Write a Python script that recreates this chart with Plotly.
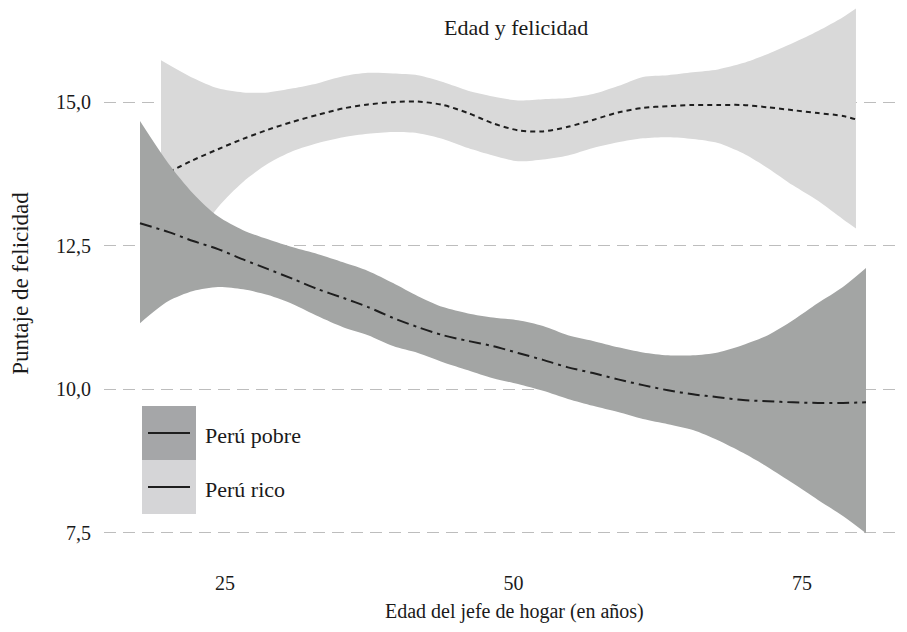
import plotly.graph_objects as go

# ---------------- data ----------------
edad_pobre = [17.63, 20.06, 22.23, 24.39, 26.56, 28.73, 30.89, 33.06, 35.23, 37.39, 39.56, 41.72,
              43.89, 46.06, 48.22, 50.39, 52.56, 54.72, 56.89, 59.06, 61.22, 63.39, 65.55, 67.72,
              69.89, 72.05, 74.22, 76.39, 78.55, 80.55]
pobre_fit = [12.89, 12.74, 12.58, 12.44, 12.26, 12.09, 11.92, 11.74, 11.59, 11.43, 11.24, 11.08,
             10.94, 10.84, 10.75, 10.63, 10.51, 10.38, 10.28, 10.17, 10.07, 9.98, 9.91, 9.86,
             9.81, 9.79, 9.77, 9.76, 9.76, 9.77]
pobre_sup = [14.67, 13.94, 13.41, 13.01, 12.77, 12.61, 12.47, 12.35, 12.21, 12.06, 11.85, 11.62,
             11.43, 11.32, 11.25, 11.20, 11.10, 10.94, 10.84, 10.73, 10.64, 10.59, 10.59, 10.64,
             10.77, 10.94, 11.20, 11.50, 11.78, 12.11]
pobre_inf = [11.15, 11.53, 11.71, 11.78, 11.74, 11.64, 11.48, 11.27, 11.08, 10.94, 10.75, 10.63,
             10.47, 10.33, 10.19, 10.09, 9.97, 9.83, 9.71, 9.60, 9.48, 9.39, 9.29, 9.11,
             8.89, 8.64, 8.36, 8.07, 7.79, 7.49]

edad_rico = [19.45, 22.23, 24.39, 26.56, 28.73, 30.89, 33.06, 35.23, 37.39, 39.56, 41.72, 43.89,
             46.06, 48.22, 50.39, 52.56, 54.72, 56.89, 59.06, 61.22, 63.39, 65.55, 67.72, 69.89,
             72.05, 74.22, 76.39, 78.55, 79.68]
rico_fit = [13.71, 13.99, 14.18, 14.36, 14.52, 14.66, 14.78, 14.89, 14.96, 15.00, 15.01, 14.95,
            14.81, 14.63, 14.51, 14.49, 14.57, 14.69, 14.82, 14.90, 14.93, 14.95, 14.95, 14.95,
            14.91, 14.86, 14.81, 14.76, 14.70]
rico_sup = [15.73, 15.42, 15.24, 15.17, 15.17, 15.24, 15.33, 15.45, 15.51, 15.50, 15.47, 15.35,
            15.20, 15.10, 15.03, 15.05, 15.07, 15.14, 15.28, 15.44, 15.47, 15.52, 15.57, 15.68,
            15.84, 16.03, 16.24, 16.48, 16.63]
rico_inf = [11.69, 12.56, 13.17, 13.61, 13.93, 14.15, 14.29, 14.39, 14.45, 14.48, 14.46, 14.36,
            14.20, 14.07, 13.97, 14.00, 14.07, 14.20, 14.30, 14.37, 14.39, 14.36, 14.29, 14.11,
            13.85, 13.55, 13.28, 12.96, 12.80]

y_ticks = [7.5, 10.0, 12.5, 15.0]
y_labels = ["7,5", "10,0", "12,5", "15,0"]
x_ticks = [25, 50, 75]
x_labels = ["25", "50", "75"]
series_names = ["Perú pobre", "Perú rico"]

# ---------------- style ----------------
OFF = 8                      # page body margin of the html page
W, H = 907 - OFF, 632 - OFF
ML, MR, MT, MB = 96, 5, 0, 73
FONT = "Liberation Serif, Times New Roman, serif"
TXT = "#1a1a1a"
C_POBRE = "#a3a5a4"
C_RICO = "#d9d9d9"
C_LINE = "#1e1e1e"

PW = W - ML - MR
PH = H - MT - MB


def pxx(x):
    """page x pixel -> paper coordinate"""
    return (x - OFF - ML) / PW


def pxy(y):
    """page y pixel -> paper coordinate"""
    return 1 - (y - OFF - MT) / PH


fig = go.Figure()


def band(xs, lo, hi, color):
    fig.add_trace(go.Scatter(x=xs, y=lo, mode="lines",
                             line=dict(width=0, color=color, shape="spline", smoothing=0.8),
                             hoverinfo="skip", showlegend=False))
    fig.add_trace(go.Scatter(x=xs, y=hi, mode="lines",
                             line=dict(width=0, color=color, shape="spline", smoothing=0.8),
                             fill="tonexty", fillcolor=color, hoverinfo="skip", showlegend=False))


band(edad_rico, rico_inf, rico_sup, C_RICO)
fig.add_trace(go.Scatter(x=edad_rico, y=rico_fit, mode="lines", name=series_names[1],
                         line=dict(color=C_LINE, width=2, dash="5px,4px", shape="spline", smoothing=0.8),
                         showlegend=False))
band(edad_pobre, pobre_inf, pobre_sup, C_POBRE)
fig.add_trace(go.Scatter(x=edad_pobre, y=pobre_fit, mode="lines", name=series_names[0],
                         line=dict(color=C_LINE, width=2, dash="12px,5px,3px,5px", shape="spline", smoothing=0.8),
                         showlegend=False))

# ---------------- manual legend ----------------
shapes = []
annotations = []
key_colors = ["#a5a6a8", "#d5d5d7"]
for i, (name, col) in enumerate(zip(series_names, key_colors)):
    top = 406 + i * 54
    bot = top + 54
    mid = (top + bot) / 2
    shapes.append(dict(type="rect", xref="paper", yref="paper",
                       x0=pxx(142), x1=pxx(196), y0=pxy(bot), y1=pxy(top),
                       fillcolor=col, line=dict(width=0), layer="above"))
    shapes.append(dict(type="line", xref="paper", yref="paper",
                       x0=pxx(148), x1=pxx(190), y0=pxy(mid), y1=pxy(mid),
                       line=dict(color=C_LINE, width=2), layer="above"))
    annotations.append(dict(text=name, xref="paper", yref="paper", x=pxx(203), y=pxy(mid + 2),
                            xanchor="left", yanchor="middle", showarrow=False,
                            font=dict(family=FONT, size=22, color=TXT)))

annotations.append(dict(text="Edad y felicidad", xref="paper", yref="paper",
                        x=pxx(516), y=pxy(28), xanchor="center", yanchor="middle",
                        showarrow=False, font=dict(family=FONT, size=22, color=TXT)))
annotations.append(dict(text="Edad del jefe de hogar (en años)", xref="paper", yref="paper",
                        x=pxx(514), y=pxy(611), xanchor="center", yanchor="middle",
                        showarrow=False, font=dict(family=FONT, size=20, color=TXT)))

fig.update_layout(
    width=W, height=H,
    margin=dict(l=ML, r=MR, t=MT, b=MB, pad=0),
    paper_bgcolor="white", plot_bgcolor="white",
    font=dict(family=FONT, size=20, color=TXT),
    shapes=shapes, annotations=annotations,
    showlegend=False,
)
fig.update_xaxes(range=[14.51, 83.67], tickvals=x_ticks, ticktext=x_labels,
                 showgrid=False, zeroline=False, showline=False, ticks="",
                 ticklabelstandoff=10, automargin=False,
                 tickfont=dict(family=FONT, size=20, color=TXT))
fig.update_yaxes(range=[7.041, 16.64], tickvals=y_ticks, ticktext=y_labels,
                 showgrid=True, gridcolor="#bdbdbd", gridwidth=1, griddash="12px,7px",
                 zeroline=False, showline=False, ticks="",
                 ticklabelstandoff=12, automargin=False,
                 title=dict(text="Puntaje de felicidad", standoff=24,
                            font=dict(family=FONT, size=23, color=TXT)),
                 tickfont=dict(family=FONT, size=20, color=TXT))

fig.write_html("out.html")
